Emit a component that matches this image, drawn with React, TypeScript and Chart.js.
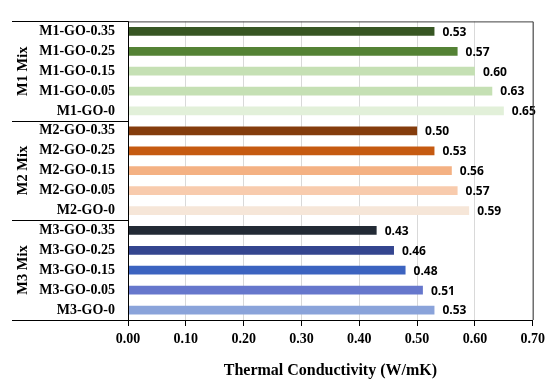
import React, { useEffect, useRef } from "react";
import { Chart, registerables } from "chart.js";

Chart.register(...registerables);

const categories = [
  "M1-GO-0.35", "M1-GO-0.25", "M1-GO-0.15", "M1-GO-0.05", "M1-GO-0",
  "M2-GO-0.35", "M2-GO-0.25", "M2-GO-0.15", "M2-GO-0.05", "M2-GO-0",
  "M3-GO-0.35", "M3-GO-0.25", "M3-GO-0.15", "M3-GO-0.05", "M3-GO-0",
];
const values = [
  0.53, 0.57, 0.60, 0.63, 0.65,
  0.50, 0.53, 0.56, 0.57, 0.59,
  0.43, 0.46, 0.48, 0.51, 0.53,
];
const barColors = [
  "#375623", "#548235", "#C5E0B4", "#C5E0B4", "#E2F0D9",
  "#843C0C", "#C55A11", "#F4B183", "#F8CBAD", "#F6E6D8",
  "#222A35", "#34458F", "#3C63C0", "#6677CC", "#8AA3DA",
];
const groups = ["M1 Mix", "M2 Mix", "M3 Mix"];
const groupSize = 5;
const xTitle = "Thermal Conductivity (W/mK)";

const SERIF = "'Liberation Serif', 'Times New Roman', serif";

const decorPlugin = {
  id: "decor",
  afterDatasetsDraw(chart: any) {
    const ctx = chart.ctx;
    const meta = chart.getDatasetMeta(0);
    ctx.save();
    ctx.font = "700 12px 'Open Sans', sans-serif";
    ctx.fillStyle = "#000";
    ctx.textAlign = "left";
    ctx.textBaseline = "middle";
    meta.data.forEach((bar: any, i: number) => {
      ctx.fillText(values[i].toFixed(2), bar.x + 8, bar.y + 1);
    });
    ctx.restore();
  },
  afterDraw(chart: any) {
    const ctx = chart.ctx;
    const { left, right, top, bottom } = chart.chartArea;
    const y = chart.scales.y;
    ctx.save();
    ctx.strokeStyle = "#404040";
    ctx.lineWidth = 1;
    ctx.beginPath();
    ctx.moveTo(left, top + 0.5);
    ctx.lineTo(right + 0.5, top + 0.5);
    ctx.lineTo(right + 0.5, bottom);
    ctx.stroke();
    ctx.strokeStyle = "#000";
    const xs = 12;
    const bounds: number[] = [top];
    for (let g = 1; g < groups.length; g++) {
      bounds.push(Math.round(y.getPixelForValue(g * groupSize - 0.5)));
    }
    bounds.push(bottom);
    ctx.beginPath();
    for (let k = 0; k < bounds.length; k++) {
      const by = Math.round(bounds[k]) + 0.5;
      ctx.moveTo(xs, by);
      ctx.lineTo(k === bounds.length - 1 ? right : left, by);
    }
    ctx.moveTo(Math.round(left) + 0.5, top);
    ctx.lineTo(Math.round(left) + 0.5, bottom + 6);
    ctx.stroke();
    ctx.font = `700 14.5px ${SERIF}`;
    ctx.fillStyle = "#000";
    ctx.textAlign = "center";
    ctx.textBaseline = "middle";
    groups.forEach((g, i) => {
      const cy = (bounds[i] + bounds[i + 1]) / 2;
      ctx.save();
      ctx.translate(23, cy);
      ctx.rotate(-Math.PI / 2);
      ctx.fillText(g, 0, 0);
      ctx.restore();
    });
    ctx.restore();
  },
};

export default function App() {
  const ref = useRef<HTMLCanvasElement>(null);
  useEffect(() => {
    document.body.style.margin = "0";
    const chart = new Chart(ref.current!, {
      type: "bar",
      data: {
        labels: categories,
        datasets: [
          {
            data: values,
            backgroundColor: barColors,
            barPercentage: 0.44,
            categoryPercentage: 1,
          },
        ],
      },
      options: {
        indexAxis: "y",
        animation: false,
        responsive: false,
        devicePixelRatio: 1,
        layout: { padding: { top: 12, right: 16, left: 0, bottom: 0 } },
        plugins: { legend: { display: false }, tooltip: { enabled: false } },
        scales: {
          x: {
            min: 0,
            max: 0.7,
            ticks: {
              stepSize: 0.1,
              callback: (v: any) => Number(v).toFixed(2),
              font: { family: SERIF, size: 14, weight: "bold" },
              color: "#000",
              padding: 5,
            },
            grid: {
              color: (c: any) => (c.tick && c.tick.value === 0 ? "#000" : "#D9D9D9"),
              tickColor: "#000",
              tickLength: 6,
              drawTicks: true,
            },
            border: { display: true, color: "#000" },
            title: {
              display: true,
              text: xTitle,
              font: { family: SERIF, size: 16, weight: "bold" },
              color: "#000",
              padding: { top: 3, bottom: 0 },
            },
            afterFit: (s: any) => {
              s.height = 60;
            },
          },
          y: {
            ticks: {
              font: { family: SERIF, size: 14, weight: "bold" },
              color: "#000",
              padding: 13,
              autoSkip: false,
            },
            grid: { display: false, drawTicks: false },
            border: { display: false },
            afterFit: (s: any) => {
              s.width = 128;
            },
          },
        },
      },
      plugins: [decorPlugin],
    });
    return () => chart.destroy();
  }, []);
  return <canvas ref={ref} width={550} height={380} style={{ display: "block" }} />;
}
